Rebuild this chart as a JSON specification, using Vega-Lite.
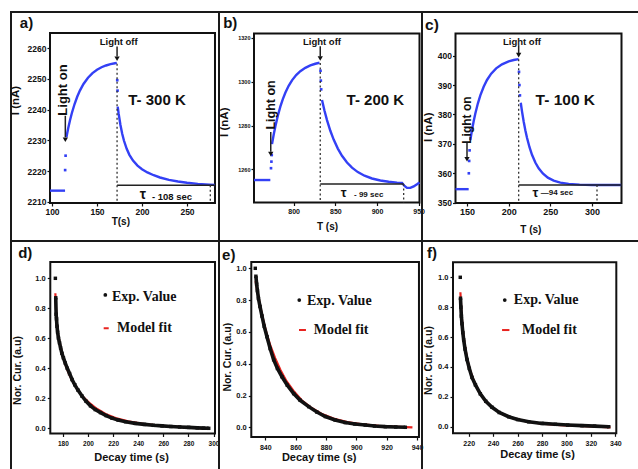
{
"$schema": "https://vega.github.io/schema/vega-lite/v6.json",
"padding": {"left": 8, "top": 11, "right": -5, "bottom": -4},
"background": "white",
"columns": 3, "spacing": 0, "bounds": "flush", "align": "each",
"concat": [
{"width": 208, "height": 229, "layer": [
 {"data": {"values": [{}]}, "mark": {"type": "rect", "filled": false, "stroke": "#111", "strokeWidth": 2},
  "encoding": {"x": {"datum": 97.78}, "x2": {"datum": 281.1}, "y": {"datum": 2209.58}, "y2": {"datum": 2264.99}}},
 {"data": {"values": [
  {"t": 97.8, "v": 2213.6, "s": 0}, {"t": 114.5, "v": 2213.6, "s": 0},
  {"t": 116, "v": 2231.0, "s": 1}, {"t": 118, "v": 2233.94, "s": 1}, {"t": 120, "v": 2236.53, "s": 1}, {"t": 122, "v": 2238.82, "s": 1}, {"t": 125, "v": 2241.76, "s": 1}, {"t": 128, "v": 2244.19, "s": 1}, {"t": 131, "v": 2246.21, "s": 1}, {"t": 135, "v": 2248.38, "s": 1}, {"t": 140, "v": 2250.42, "s": 1}, {"t": 145, "v": 2251.92, "s": 1}, {"t": 150, "v": 2253.01, "s": 1}, {"t": 155, "v": 2253.82, "s": 1}, {"t": 160, "v": 2254.4, "s": 1}, {"t": 165, "v": 2254.83, "s": 1}, {"t": 170, "v": 2255.14, "s": 1}, {"t": 172, "v": 2255.25, "s": 1},
  {"t": 173, "v": 2241.0, "s": 2}, {"t": 174, "v": 2238.78, "s": 2}, {"t": 176, "v": 2235.08, "s": 2}, {"t": 178, "v": 2232.16, "s": 2}, {"t": 180, "v": 2229.86, "s": 2}, {"t": 183, "v": 2227.22, "s": 2}, {"t": 186, "v": 2225.28, "s": 2}, {"t": 190, "v": 2223.4, "s": 2}, {"t": 195, "v": 2221.76, "s": 2}, {"t": 200, "v": 2220.59, "s": 2}, {"t": 206, "v": 2219.54, "s": 2}, {"t": 213, "v": 2218.62, "s": 2}, {"t": 220, "v": 2217.89, "s": 2}, {"t": 230, "v": 2217.13, "s": 2}, {"t": 240, "v": 2216.58, "s": 2}, {"t": 250, "v": 2216.16, "s": 2}, {"t": 262, "v": 2215.81, "s": 2}, {"t": 275, "v": 2215.55, "s": 2}, {"t": 281, "v": 2215.45, "s": 2}
 ]},
  "mark": {"type": "line", "color": "#3340f5", "strokeWidth": 2.4},
  "encoding": {
   "x": {"field": "t", "type": "quantitative", "scale": {"domain": [54.44, 285.56], "nice": false, "zero": false},
    "axis": {"values": [100, 150, 200, 250], "tickCount": 20, "format": "d", "labelOverlap": false, "offset": -38, "title": "T(s)", "titleX": 109.3, "titleY": 18.7, "titleFontSize": 10, "labelFontSize": 8.5, "labelPadding": 1.5}},
   "y": {"field": "v", "type": "quantitative", "scale": {"domain": [2197.19, 2271.83], "nice": false, "zero": false},
    "axis": {"values": [2210, 2220, 2230, 2240, 2250, 2260], "tickCount": 20, "format": "d", "labelOverlap": false, "offset": -39, "title": "I (nA)", "titleX": -34.7, "titleY": 88, "titleFontSize": 11.5, "labelFontSize": 8.5, "labelPadding": 1}},
   "detail": {"field": "s", "type": "nominal"}}},
 {"data": {"values": [{"t": 114.6, "v": 2220.3}, {"t": 115.1, "v": 2225.0}, {"t": 172.5, "v": 2249.6}, {"t": 172.8, "v": 2246.2}]},
  "mark": {"type": "square", "color": "#3340f5", "size": 7, "opacity": 1},
  "encoding": {"x": {"field": "t", "type": "quantitative"}, "y": {"field": "v", "type": "quantitative"}}},
 {"data": {"values": [{"t": 172.3, "v": 2215.4, "t2": 281.1, "v2": 2215.4}, {"t": 172.3, "v": 2260.6, "t2": 172.3, "v2": 2257.3}, {"t": 114.8, "v": 2238, "t2": 114.8, "v2": 2231}]},
  "mark": {"type": "rule", "color": "#222", "strokeWidth": 1.5},
  "encoding": {"x": {"field": "t", "type": "quantitative"}, "x2": {"field": "t2"}, "y": {"field": "v", "type": "quantitative"}, "y2": {"field": "v2"}}},
 {"data": {"values": [{"t": 172.3, "v": 2255, "t2": 172.3, "v2": 2209.6}, {"t": 275.9, "v": 2215.4, "t2": 275.9, "v2": 2209.6}]},
  "mark": {"type": "rule", "color": "#333", "strokeWidth": 1.3, "strokeDash": [2, 2.5]},
  "encoding": {"x": {"field": "t", "type": "quantitative"}, "x2": {"field": "t2"}, "y": {"field": "v", "type": "quantitative"}, "y2": {"field": "v2"}}},
 {"data": {"values": [{"t": 172.3, "v": 2256.6}, {"t": 114.8, "v": 2230.2}]},
  "mark": {"type": "point", "shape": "triangle-down", "filled": true, "color": "#111", "size": 28, "opacity": 1},
  "encoding": {"x": {"field": "t", "type": "quantitative"}, "y": {"field": "v", "type": "quantitative"}}},
 {"data": {"values": [{"t": 174.1, "v": 2262.2, "label": "Light off"}]}, "mark": {"type": "text", "fontSize": 9.5},
  "encoding": {"x": {"field": "t", "type": "quantitative"}, "y": {"field": "v", "type": "quantitative"}, "text": {"field": "label"}}},
 {"data": {"values": [{"t": 112.2, "v": 2246.4, "label": "Light on"}]}, "mark": {"type": "text", "fontSize": 13, "angle": 270},
  "encoding": {"x": {"field": "t", "type": "quantitative"}, "y": {"field": "v", "type": "quantitative"}, "text": {"field": "label"}}},
 {"data": {"values": [{"t": 216.7, "v": 2243.1, "label": "T- 300 K"}, {"t": 71.7, "v": 2268.2, "label": "a)"}]}, "mark": {"type": "text", "fontSize": 15},
  "encoding": {"x": {"field": "t", "type": "quantitative"}, "y": {"field": "v", "type": "quantitative"}, "text": {"field": "label"}}},
 {"data": {"values": [{"t": 201.1, "v": 2212.2, "label": "τ"}]}, "mark": {"type": "text", "fontSize": 14},
  "encoding": {"x": {"field": "t", "type": "quantitative"}, "y": {"field": "v", "type": "quantitative"}, "text": {"field": "label"}}},
 {"data": {"values": [{"t": 233.3, "v": 2211.6, "label": "- 108 sec"}]}, "mark": {"type": "text", "fontSize": 9.5},
  "encoding": {"x": {"field": "t", "type": "quantitative"}, "y": {"field": "v", "type": "quantitative"}, "text": {"field": "label"}}}
]},
{"width": 203, "height": 229, "layer": [
 {"data": {"values": [{}]}, "mark": {"type": "rect", "filled": false, "stroke": "#111", "strokeWidth": 2},
  "encoding": {"x": {"datum": 752.4}, "x2": {"datum": 951.0}, "y": {"datum": 1244.84}, "y2": {"datum": 1322.0}}},
 {"data": {"values": [
  {"t": 752.4, "v": 1255.1, "s": 0}, {"t": 772, "v": 1255.1, "s": 0},
  {"t": 774, "v": 1271.5, "s": 1}, {"t": 776, "v": 1275.77, "s": 1}, {"t": 778, "v": 1279.57, "s": 1}, {"t": 781, "v": 1284.49, "s": 1}, {"t": 784, "v": 1288.62, "s": 1}, {"t": 787, "v": 1292.08, "s": 1}, {"t": 790, "v": 1294.98, "s": 1}, {"t": 794, "v": 1298.13, "s": 1}, {"t": 798, "v": 1300.62, "s": 1}, {"t": 803, "v": 1303.01, "s": 1}, {"t": 808, "v": 1304.79, "s": 1}, {"t": 814, "v": 1306.34, "s": 1}, {"t": 820, "v": 1307.43, "s": 1}, {"t": 826, "v": 1308.19, "s": 1}, {"t": 831, "v": 1308.65, "s": 1},
  {"t": 834, "v": 1291.6, "s": 2}, {"t": 837, "v": 1286.72, "s": 2}, {"t": 840, "v": 1282.46, "s": 2}, {"t": 844, "v": 1277.61, "s": 2}, {"t": 848, "v": 1273.57, "s": 2}, {"t": 853, "v": 1269.45, "s": 2}, {"t": 858, "v": 1266.17, "s": 2}, {"t": 864, "v": 1263.09, "s": 2}, {"t": 870, "v": 1260.76, "s": 2}, {"t": 877, "v": 1258.72, "s": 2}, {"t": 885, "v": 1257.07, "s": 2}, {"t": 894, "v": 1255.8, "s": 2}, {"t": 904, "v": 1254.89, "s": 2}, {"t": 914, "v": 1254.31, "s": 2}, {"t": 924, "v": 1253.94, "s": 2}, {"t": 930, "v": 1253.79, "s": 2}, {"t": 933, "v": 1252.4, "s": 2}, {"t": 936, "v": 1251.5, "s": 2}, {"t": 940, "v": 1251.5, "s": 2}, {"t": 944, "v": 1252.2, "s": 2}, {"t": 948, "v": 1253.2, "s": 2}, {"t": 951, "v": 1254, "s": 2}
 ]},
  "mark": {"type": "line", "color": "#3340f5", "strokeWidth": 2.4},
  "encoding": {
   "x": {"field": "t", "type": "quantitative", "scale": {"domain": [710.4, 954.0], "nice": false, "zero": false},
    "axis": {"values": [800, 850, 900, 950], "tickCount": 20, "format": "d", "labelOverlap": false, "offset": -38.5, "title": "T (s)", "titleX": 108, "titleY": 24.2, "titleFontSize": 10, "labelFontSize": 7, "labelPadding": 2}},
   "y": {"field": "v", "type": "quantitative", "scale": {"domain": [1227.26, 1331.83], "nice": false, "zero": false},
    "axis": {"values": [1260, 1280, 1300, 1320], "tickCount": 20, "format": "d", "labelOverlap": false, "offset": -35, "title": "I (nA)", "titleX": -29.7, "titleY": 109.7, "titleFontSize": 11.5, "labelFontSize": 5.5, "labelPadding": 1}},
   "detail": {"field": "s", "type": "nominal"}}},
 {"data": {"values": [{"t": 772.8, "v": 1260.5}, {"t": 773.3, "v": 1263.5}, {"t": 773.7, "v": 1266.5}, {"t": 832.2, "v": 1305}, {"t": 832.6, "v": 1300.5}, {"t": 833, "v": 1296.5}]},
  "mark": {"type": "square", "color": "#3340f5", "size": 7, "opacity": 1},
  "encoding": {"x": {"field": "t", "type": "quantitative"}, "y": {"field": "v", "type": "quantitative"}}},
 {"data": {"values": [{"t": 831.9, "v": 1253.3, "t2": 932, "v2": 1253.3}, {"t": 831.9, "v": 1316.2, "t2": 831.9, "v2": 1311.5}, {"t": 772.5, "v": 1277, "t2": 772.5, "v2": 1268}]},
  "mark": {"type": "rule", "color": "#222", "strokeWidth": 1.5},
  "encoding": {"x": {"field": "t", "type": "quantitative"}, "x2": {"field": "t2"}, "y": {"field": "v", "type": "quantitative"}, "y2": {"field": "v2"}}},
 {"data": {"values": [{"t": 831.9, "v": 1308.5, "t2": 831.9, "v2": 1244.84}, {"t": 932, "v": 1253.3, "t2": 932, "v2": 1244.84}]},
  "mark": {"type": "rule", "color": "#333", "strokeWidth": 1.3, "strokeDash": [2, 2.5]},
  "encoding": {"x": {"field": "t", "type": "quantitative"}, "x2": {"field": "t2"}, "y": {"field": "v", "type": "quantitative"}, "y2": {"field": "v2"}}},
 {"data": {"values": [{"t": 831.9, "v": 1310.6}, {"t": 772.5, "v": 1267}]},
  "mark": {"type": "point", "shape": "triangle-down", "filled": true, "color": "#111", "size": 28, "opacity": 1},
  "encoding": {"x": {"field": "t", "type": "quantitative"}, "y": {"field": "v", "type": "quantitative"}}},
 {"data": {"values": [{"t": 834, "v": 1318.3, "label": "Light off"}]}, "mark": {"type": "text", "fontSize": 9.5},
  "encoding": {"x": {"field": "t", "type": "quantitative"}, "y": {"field": "v", "type": "quantitative"}, "text": {"field": "label"}}},
 {"data": {"values": [{"t": 773, "v": 1289.4, "label": "Light on"}]}, "mark": {"type": "text", "fontSize": 12.5, "angle": 270},
  "encoding": {"x": {"field": "t", "type": "quantitative"}, "y": {"field": "v", "type": "quantitative"}, "text": {"field": "label"}}},
 {"data": {"values": [{"t": 898, "v": 1291.6, "label": "T- 200 K"}, {"t": 723.9, "v": 1326.7, "label": "b)"}]}, "mark": {"type": "text", "fontSize": 15},
  "encoding": {"x": {"field": "t", "type": "quantitative"}, "y": {"field": "v", "type": "quantitative"}, "text": {"field": "label"}}},
 {"data": {"values": [{"t": 860, "v": 1249, "label": "τ"}]}, "mark": {"type": "text", "fontSize": 13},
  "encoding": {"x": {"field": "t", "type": "quantitative"}, "y": {"field": "v", "type": "quantitative"}, "text": {"field": "label"}}},
 {"data": {"values": [{"t": 890, "v": 1248.3, "label": "- 99 sec"}]}, "mark": {"type": "text", "fontSize": 8},
  "encoding": {"x": {"field": "t", "type": "quantitative"}, "y": {"field": "v", "type": "quantitative"}, "text": {"field": "label"}}}
]},
{"width": 222, "height": 229, "layer": [
 {"data": {"values": [{}]}, "mark": {"type": "rect", "filled": false, "stroke": "#111", "strokeWidth": 2},
  "encoding": {"x": {"datum": 136.2}, "x2": {"datum": 335.4}, "y": {"datum": 349.9}, "y2": {"datum": 407.55}}},
 {"data": {"values": [
  {"t": 136.2, "v": 354.6, "s": 0}, {"t": 152, "v": 354.6, "s": 0},
  {"t": 154, "v": 371.3, "s": 1}, {"t": 156, "v": 374.71, "s": 1}, {"t": 158, "v": 377.71, "s": 1}, {"t": 160, "v": 380.35, "s": 1}, {"t": 163, "v": 383.72, "s": 1}, {"t": 166, "v": 386.5, "s": 1}, {"t": 170, "v": 389.45, "s": 1}, {"t": 174, "v": 391.74, "s": 1}, {"t": 179, "v": 393.88, "s": 1}, {"t": 185, "v": 395.68, "s": 1}, {"t": 192, "v": 397.07, "s": 1}, {"t": 200, "v": 398.05, "s": 1}, {"t": 206, "v": 398.52, "s": 1}, {"t": 212, "v": 398.83, "s": 1},
  {"t": 214.5, "v": 384.0, "s": 2}, {"t": 216, "v": 381.05, "s": 2}, {"t": 218, "v": 377.6, "s": 2}, {"t": 220, "v": 374.63, "s": 2}, {"t": 222, "v": 372.07, "s": 2}, {"t": 225, "v": 368.86, "s": 2}, {"t": 228, "v": 366.3, "s": 2}, {"t": 232, "v": 363.66, "s": 2}, {"t": 236, "v": 361.7, "s": 2}, {"t": 241, "v": 359.93, "s": 2}, {"t": 247, "v": 358.52, "s": 2}, {"t": 254, "v": 357.5, "s": 2}, {"t": 262, "v": 356.83, "s": 2}, {"t": 272, "v": 356.39, "s": 2}, {"t": 285, "v": 356.15, "s": 2}, {"t": 300, "v": 356.04, "s": 2}, {"t": 315, "v": 356.01, "s": 2}, {"t": 335, "v": 356.0, "s": 2}
 ]},
  "mark": {"type": "line", "color": "#3340f5", "strokeWidth": 2.4},
  "encoding": {
   "x": {"field": "t", "type": "quantitative", "scale": {"domain": [96.0, 362.4], "nice": false, "zero": false},
    "axis": {"values": [150, 200, 250, 300], "tickCount": 20, "format": "d", "labelOverlap": false, "offset": -38, "title": "T (s)", "titleX": 108.3, "titleY": 26.3, "titleFontSize": 10, "labelFontSize": 9, "labelPadding": 1.5}},
   "y": {"field": "v", "type": "quantitative", "scale": {"domain": [336.97, 414.86], "nice": false, "zero": false},
    "axis": {"values": [350, 360, 370, 380, 390, 400], "tickCount": 20, "format": "d", "labelOverlap": false, "offset": -33.5, "title": "I (nA)", "titleX": -27.5, "titleY": 114.7, "titleFontSize": 11.5, "labelFontSize": 8.5, "labelPadding": 1}},
   "detail": {"field": "s", "type": "nominal"}}},
 {"data": {"values": [{"t": 152.2, "v": 360}, {"t": 152.6, "v": 364.2}, {"t": 153.1, "v": 367.8}, {"t": 212.4, "v": 394.5}, {"t": 212.9, "v": 390}, {"t": 213.5, "v": 386.5}]},
  "mark": {"type": "square", "color": "#3340f5", "size": 7, "opacity": 1},
  "encoding": {"x": {"field": "t", "type": "quantitative"}, "y": {"field": "v", "type": "quantitative"}}},
 {"data": {"values": [{"t": 212, "v": 356, "t2": 335.4, "v2": 356}, {"t": 212, "v": 403.6, "t2": 212, "v2": 400.8}, {"t": 150, "v": 370.5, "t2": 150, "v2": 365.5}]},
  "mark": {"type": "rule", "color": "#222", "strokeWidth": 1.5},
  "encoding": {"x": {"field": "t", "type": "quantitative"}, "x2": {"field": "t2"}, "y": {"field": "v", "type": "quantitative"}, "y2": {"field": "v2"}}},
 {"data": {"values": [{"t": 212, "v": 398.8, "t2": 212, "v2": 349.9}, {"t": 306, "v": 356, "t2": 306, "v2": 349.9}]},
  "mark": {"type": "rule", "color": "#333", "strokeWidth": 1.3, "strokeDash": [2, 2.5]},
  "encoding": {"x": {"field": "t", "type": "quantitative"}, "x2": {"field": "t2"}, "y": {"field": "v", "type": "quantitative"}, "y2": {"field": "v2"}}},
 {"data": {"values": [{"t": 212, "v": 400.2}, {"t": 150, "v": 364.8}]},
  "mark": {"type": "point", "shape": "triangle-down", "filled": true, "color": "#111", "size": 28, "opacity": 1},
  "encoding": {"x": {"field": "t", "type": "quantitative"}, "y": {"field": "v", "type": "quantitative"}}},
 {"data": {"values": [{"t": 216, "v": 404.8, "label": "Light off"}]}, "mark": {"type": "text", "fontSize": 9.5},
  "encoding": {"x": {"field": "t", "type": "quantitative"}, "y": {"field": "v", "type": "quantitative"}, "text": {"field": "label"}}},
 {"data": {"values": [{"t": 150, "v": 378.1, "label": "Light on"}]}, "mark": {"type": "text", "fontSize": 12, "angle": 270},
  "encoding": {"x": {"field": "t", "type": "quantitative"}, "y": {"field": "v", "type": "quantitative"}, "text": {"field": "label"}}},
 {"data": {"values": [{"t": 268, "v": 384.9, "label": "T- 100 K"}, {"t": 108, "v": 410.4, "label": "c)"}]}, "mark": {"type": "text", "fontSize": 15.5},
  "encoding": {"x": {"field": "t", "type": "quantitative"}, "y": {"field": "v", "type": "quantitative"}, "text": {"field": "label"}}},
 {"data": {"values": [{"t": 232, "v": 353.4, "label": "τ"}]}, "mark": {"type": "text", "fontSize": 13},
  "encoding": {"x": {"field": "t", "type": "quantitative"}, "y": {"field": "v", "type": "quantitative"}, "text": {"field": "label"}}},
 {"data": {"values": [{"t": 258, "v": 353.2, "label": "—94 sec"}]}, "mark": {"type": "text", "fontSize": 8},
  "encoding": {"x": {"field": "t", "type": "quantitative"}, "y": {"field": "v", "type": "quantitative"}, "text": {"field": "label"}}}
]},
{"width": 208, "height": 231, "layer": [
 {"data": {"values": [{}]}, "mark": {"type": "rect", "filled": false, "stroke": "#111", "strokeWidth": 2},
  "encoding": {"x": {"datum": 169.96}, "x2": {"datum": 301.2}, "y": {"datum": -0.0347}, "y2": {"datum": 1.1087}}},
 {"data": {"values": [
  {"t": 174.0, "v": 0.90}, {"t": 174.5, "v": 0.80}, {"t": 175.2, "v": 0.70}, {"t": 176.2, "v": 0.62}, {"t": 178, "v": 0.55}, {"t": 180, "v": 0.48}, {"t": 182, "v": 0.425}, {"t": 185, "v": 0.36}, {"t": 188, "v": 0.31}, {"t": 192, "v": 0.255}, {"t": 196, "v": 0.21}, {"t": 201, "v": 0.17}, {"t": 207, "v": 0.13}, {"t": 214, "v": 0.095}, {"t": 222, "v": 0.068}, {"t": 232, "v": 0.046}, {"t": 244, "v": 0.029}, {"t": 258, "v": 0.017}, {"t": 272, "v": 0.009}, {"t": 286, "v": 0.003}, {"t": 296, "v": -0.002}
 ]},
  "mark": {"type": "line", "color": "#e8231f", "strokeWidth": 2.2},
  "encoding": {
   "x": {"field": "t", "type": "quantitative", "scale": {"domain": [138.65, 304.38], "nice": false, "zero": false},
    "axis": {"values": [180, 200, 220, 240, 260, 280, 300], "tickCount": 20, "format": "d", "labelOverlap": false, "offset": -38.5, "title": "Decay time (s)", "titleX": 120, "titleY": 23.5, "titleFontSize": 11, "labelFontSize": 6.5, "labelPadding": 4}},
   "y": {"field": "v", "type": "quantitative", "scale": {"domain": [-0.2913, 1.2487], "nice": false, "zero": false},
    "axis": {"values": [0, 0.2, 0.4, 0.6, 0.8, 1.0], "tickCount": 20, "format": ".1f", "labelOverlap": false, "offset": -39.3, "title": "Nor. Cur. (a.u)", "titleX": -33.3, "titleY": 129, "titleFontSize": 10.5, "labelFontSize": 7.5, "labelPadding": 2}}}},
 {"data": {"name": "expD", "values": [
  {"t": 174.0, "v": 1.0}, {"t": 174.3, "v": 0.87}, {"t": 174.6, "v": 0.76}, {"t": 174.9, "v": 0.73}, {"t": 175.3, "v": 0.68}, {"t": 175.8, "v": 0.64}, {"t": 176.5, "v": 0.60}, {"t": 177.3, "v": 0.57}, {"t": 178.2, "v": 0.535}, {"t": 179.2, "v": 0.50}, {"t": 180.4, "v": 0.47}, {"t": 181.9, "v": 0.435}, {"t": 183.5, "v": 0.40}, {"t": 185.3, "v": 0.365}, {"t": 187.3, "v": 0.325}, {"t": 189.5, "v": 0.29}, {"t": 192, "v": 0.255}, {"t": 195.2, "v": 0.215}, {"t": 198.5, "v": 0.18}, {"t": 202, "v": 0.15}, {"t": 205.8, "v": 0.125}, {"t": 210, "v": 0.105}, {"t": 214.5, "v": 0.085}, {"t": 219.1, "v": 0.068}, {"t": 224, "v": 0.055}, {"t": 230, "v": 0.044}, {"t": 237.7, "v": 0.033}, {"t": 245, "v": 0.026}, {"t": 252, "v": 0.02}, {"t": 259, "v": 0.016}, {"t": 266, "v": 0.012}, {"t": 273, "v": 0.009}, {"t": 280.2, "v": 0.006}, {"t": 287, "v": 0.003}, {"t": 292, "v": 0.001}, {"t": 296.2, "v": 0.0}
 ]},
  "transform": [{"filter": "datum.v < 0.95"}],
  "mark": {"type": "line", "color": "#111", "strokeWidth": 3.6},
  "encoding": {"x": {"field": "t", "type": "quantitative"}, "y": {"field": "v", "type": "quantitative"}}},
 {"data": {"name": "expD"},
  "mark": {"type": "square", "color": "#111", "size": 12, "opacity": 1},
  "encoding": {"x": {"field": "t", "type": "quantitative"}, "y": {"field": "v", "type": "quantitative"}}},
 {"data": {"values": [{"t": 213.8, "v": 0.889}]}, "mark": {"type": "circle", "color": "#111", "size": 14, "opacity": 1},
  "encoding": {"x": {"field": "t", "type": "quantitative"}, "y": {"field": "v", "type": "quantitative"}}},
 {"data": {"values": [{"t": 212.5, "t2": 216.5, "v": 0.667}]}, "mark": {"type": "rule", "color": "#e8231f", "strokeWidth": 2},
  "encoding": {"x": {"field": "t", "type": "quantitative"}, "x2": {"field": "t2"}, "y": {"field": "v", "type": "quantitative"}}},
 {"data": {"values": [{"t": 219.1, "v": 0.877, "label": "Exp. Value"}, {"t": 223.1, "v": 0.667, "label": "Model fit"}]},
  "mark": {"type": "text", "font": "Liberation Serif", "fontSize": 14, "align": "left"},
  "encoding": {"x": {"field": "t", "type": "quantitative"}, "y": {"field": "v", "type": "quantitative"}, "text": {"field": "label"}}},
 {"data": {"values": [{"t": 150.0, "v": 1.167, "label": "d)"}]}, "mark": {"type": "text", "fontSize": 15},
  "encoding": {"x": {"field": "t", "type": "quantitative"}, "y": {"field": "v", "type": "quantitative"}, "text": {"field": "label"}}}
]},
{"width": 203, "height": 231, "layer": [
 {"data": {"values": [{}]}, "mark": {"type": "rect", "filled": false, "stroke": "#111", "strokeWidth": 2},
  "encoding": {"x": {"datum": 830.77}, "x2": {"datum": 941.3}, "y": {"datum": -0.061}, "y2": {"datum": 1.0396}}},
 {"data": {"values": [
  {"t": 833.6, "v": 0.92}, {"t": 834.5, "v": 0.87}, {"t": 835.5, "v": 0.82}, {"t": 837, "v": 0.745}, {"t": 839, "v": 0.66}, {"t": 841, "v": 0.585}, {"t": 843.5, "v": 0.51}, {"t": 846.5, "v": 0.435}, {"t": 850, "v": 0.36}, {"t": 854, "v": 0.29}, {"t": 858.5, "v": 0.23}, {"t": 864, "v": 0.17}, {"t": 870, "v": 0.125}, {"t": 877, "v": 0.085}, {"t": 885, "v": 0.055}, {"t": 894, "v": 0.033}, {"t": 904, "v": 0.018}, {"t": 915, "v": 0.009}, {"t": 927, "v": 0.003}, {"t": 937, "v": 0.0}
 ]},
  "mark": {"type": "line", "color": "#e8231f", "strokeWidth": 2.2},
  "encoding": {
   "x": {"field": "t", "type": "quantitative", "scale": {"domain": [809.48, 943.3], "nice": false, "zero": false},
    "axis": {"values": [840, 860, 880, 900, 920, 940], "tickCount": 20, "format": "d", "labelOverlap": false, "offset": -35, "title": "Decay time (s)", "titleX": 99.7, "titleY": 20.3, "titleFontSize": 11, "labelFontSize": 7, "labelPadding": 3}},
   "y": {"field": "v", "type": "quantitative", "scale": {"domain": [-0.2811, 1.1717], "nice": false, "zero": false},
    "axis": {"values": [0, 0.2, 0.4, 0.6, 0.8, 1.0], "tickCount": 20, "format": ".1f", "labelOverlap": false, "offset": -32.3, "title": "Nor. Cur. (a.u)", "titleX": -24.3, "titleY": 115.7, "titleFontSize": 10.5, "labelFontSize": 7.5, "labelPadding": 2}}}},
 {"data": {"name": "expE", "values": [
  {"t": 833.4, "v": 1.0}, {"t": 833.8, "v": 0.95}, {"t": 834.3, "v": 0.90}, {"t": 834.8, "v": 0.86}, {"t": 835.5, "v": 0.81}, {"t": 836.5, "v": 0.76}, {"t": 837.8, "v": 0.70}, {"t": 839.3, "v": 0.635}, {"t": 841.1, "v": 0.57}, {"t": 843.2, "v": 0.495}, {"t": 845.5, "v": 0.425}, {"t": 848, "v": 0.37}, {"t": 851, "v": 0.318}, {"t": 854.5, "v": 0.265}, {"t": 858.7, "v": 0.212}, {"t": 863, "v": 0.17}, {"t": 868.6, "v": 0.13}, {"t": 874, "v": 0.096}, {"t": 879.6, "v": 0.068}, {"t": 886, "v": 0.046}, {"t": 892.7, "v": 0.03}, {"t": 899, "v": 0.021}, {"t": 905.9, "v": 0.014}, {"t": 912, "v": 0.008}, {"t": 919.1, "v": 0.004}, {"t": 926, "v": 0.002}, {"t": 932.3, "v": 0.0}
 ]},
  "transform": [{"filter": "datum.v < 0.97"}],
  "mark": {"type": "line", "color": "#111", "strokeWidth": 3.6},
  "encoding": {"x": {"field": "t", "type": "quantitative"}, "y": {"field": "v", "type": "quantitative"}}},
 {"data": {"name": "expE"},
  "mark": {"type": "square", "color": "#111", "size": 12, "opacity": 1},
  "encoding": {"x": {"field": "t", "type": "quantitative"}, "y": {"field": "v", "type": "quantitative"}}},
 {"data": {"values": [{"t": 862.4, "v": 0.80}]}, "mark": {"type": "circle", "color": "#111", "size": 14, "opacity": 1},
  "encoding": {"x": {"field": "t", "type": "quantitative"}, "y": {"field": "v", "type": "quantitative"}}},
 {"data": {"values": [{"t": 862.2, "t2": 866.8, "v": 0.612}]}, "mark": {"type": "rule", "color": "#e8231f", "strokeWidth": 2},
  "encoding": {"x": {"field": "t", "type": "quantitative"}, "x2": {"field": "t2"}, "y": {"field": "v", "type": "quantitative"}}},
 {"data": {"values": [{"t": 867.5, "v": 0.796, "label": "Exp. Value"}, {"t": 871.9, "v": 0.61, "label": "Model fit"}]},
  "mark": {"type": "text", "font": "Liberation Serif", "fontSize": 14, "align": "left"},
  "encoding": {"x": {"field": "t", "type": "quantitative"}, "y": {"field": "v", "type": "quantitative"}, "text": {"field": "label"}}},
 {"data": {"values": [{"t": 815.9, "v": 1.084, "label": "e)"}]}, "mark": {"type": "text", "fontSize": 15},
  "encoding": {"x": {"field": "t", "type": "quantitative"}, "y": {"field": "v", "type": "quantitative"}, "text": {"field": "label"}}}
]},
{"width": 222, "height": 231, "layer": [
 {"data": {"values": [{}]}, "mark": {"type": "rect", "filled": false, "stroke": "#111", "strokeWidth": 2},
  "encoding": {"x": {"datum": 207.15}, "x2": {"datum": 340.79}, "y": {"datum": -0.0442}, "y2": {"datum": 1.1004}}},
 {"data": {"values": [
  {"t": 213.2, "v": 0.90}, {"t": 214, "v": 0.77}, {"t": 215, "v": 0.66}, {"t": 216.5, "v": 0.56}, {"t": 218.6, "v": 0.46}, {"t": 221, "v": 0.38}, {"t": 224, "v": 0.31}, {"t": 228, "v": 0.24}, {"t": 233, "v": 0.18}, {"t": 239, "v": 0.13}, {"t": 247, "v": 0.088}, {"t": 256, "v": 0.058}, {"t": 267, "v": 0.036}, {"t": 280, "v": 0.021}, {"t": 295, "v": 0.011}, {"t": 310, "v": 0.005}, {"t": 325, "v": 0.001}, {"t": 336, "v": -0.005}
 ]},
  "mark": {"type": "line", "color": "#e8231f", "strokeWidth": 2.2},
  "encoding": {
   "x": {"field": "t", "type": "quantitative", "scale": {"domain": [181.78, 363.45], "nice": false, "zero": false},
    "axis": {"values": [220, 240, 260, 280, 300, 320, 340], "tickCount": 20, "format": "d", "labelOverlap": false, "offset": -38.7, "title": "Decay time (s)", "titleX": 115, "titleY": 20.7, "titleFontSize": 11, "labelFontSize": 7, "labelPadding": 3}},
   "y": {"field": "v", "type": "quantitative", "scale": {"domain": [-0.3032, 1.243], "nice": false, "zero": false},
    "axis": {"values": [0, 0.2, 0.4, 0.6, 0.8, 1.0], "tickCount": 20, "format": ".1f", "labelOverlap": false, "offset": -31, "title": "Nor. Cur. (a.u)", "titleX": -25, "titleY": 119, "titleFontSize": 10.5, "labelFontSize": 7.5, "labelPadding": 2}}}},
 {"data": {"name": "expF", "values": [
  {"t": 213.1, "v": 1.0}, {"t": 213.3, "v": 0.86}, {"t": 213.6, "v": 0.80}, {"t": 214.0, "v": 0.74}, {"t": 214.5, "v": 0.69}, {"t": 215.2, "v": 0.63}, {"t": 215.9, "v": 0.58}, {"t": 217, "v": 0.52}, {"t": 218.6, "v": 0.45}, {"t": 220.5, "v": 0.39}, {"t": 222.7, "v": 0.33}, {"t": 225.5, "v": 0.28}, {"t": 229.5, "v": 0.22}, {"t": 234, "v": 0.17}, {"t": 239.1, "v": 0.13}, {"t": 245, "v": 0.095}, {"t": 252.7, "v": 0.067}, {"t": 260, "v": 0.048}, {"t": 269.1, "v": 0.033}, {"t": 280, "v": 0.022}, {"t": 290.9, "v": 0.016}, {"t": 301, "v": 0.011}, {"t": 312.7, "v": 0.007}, {"t": 323, "v": 0.004}, {"t": 334.6, "v": 0.0}
 ]},
  "transform": [{"filter": "datum.v < 0.95"}],
  "mark": {"type": "line", "color": "#111", "strokeWidth": 3.6},
  "encoding": {"x": {"field": "t", "type": "quantitative"}, "y": {"field": "v", "type": "quantitative"}}},
 {"data": {"name": "expF"},
  "mark": {"type": "square", "color": "#111", "size": 12, "opacity": 1},
  "encoding": {"x": {"field": "t", "type": "quantitative"}, "y": {"field": "v", "type": "quantitative"}}},
 {"data": {"values": [{"t": 249.5, "v": 0.848}]}, "mark": {"type": "circle", "color": "#111", "size": 14, "opacity": 1},
  "encoding": {"x": {"field": "t", "type": "quantitative"}, "y": {"field": "v", "type": "quantitative"}}},
 {"data": {"values": [{"t": 247.3, "t2": 253.3, "v": 0.647}]}, "mark": {"type": "rule", "color": "#e8231f", "strokeWidth": 2},
  "encoding": {"x": {"field": "t", "type": "quantitative"}, "x2": {"field": "t2"}, "y": {"field": "v", "type": "quantitative"}}},
 {"data": {"values": [{"t": 256.9, "v": 0.845, "label": "Exp. Value"}, {"t": 263.6, "v": 0.645, "label": "Model fit"}]},
  "mark": {"type": "text", "font": "Liberation Serif", "fontSize": 14, "align": "left"},
  "encoding": {"x": {"field": "t", "type": "quantitative"}, "y": {"field": "v", "type": "quantitative"}, "text": {"field": "label"}}},
 {"data": {"values": [{"t": 190.0, "v": 1.161, "label": "f)"}]}, "mark": {"type": "text", "fontSize": 15},
  "encoding": {"x": {"field": "t", "type": "quantitative"}, "y": {"field": "v", "type": "quantitative"}, "text": {"field": "label"}}}
]}
],
"config": {
 "view": {"stroke": "#1a1a1a", "strokeWidth": 2},
 "axis": {"domain": false, "grid": false, "tickSize": 3, "tickWidth": 1.2, "tickColor": "#111", "labelFont": "Liberation Sans", "labelFontWeight": "bold", "labelColor": "#111", "titleFont": "Liberation Sans", "titleFontWeight": "bold", "titleColor": "#111", "titleAlign": "center", "titleBaseline": "middle", "labelOverlap": false, "labelFlush": false},
 "text": {"font": "Liberation Sans", "fontWeight": "bold", "color": "#111"}
}
}
